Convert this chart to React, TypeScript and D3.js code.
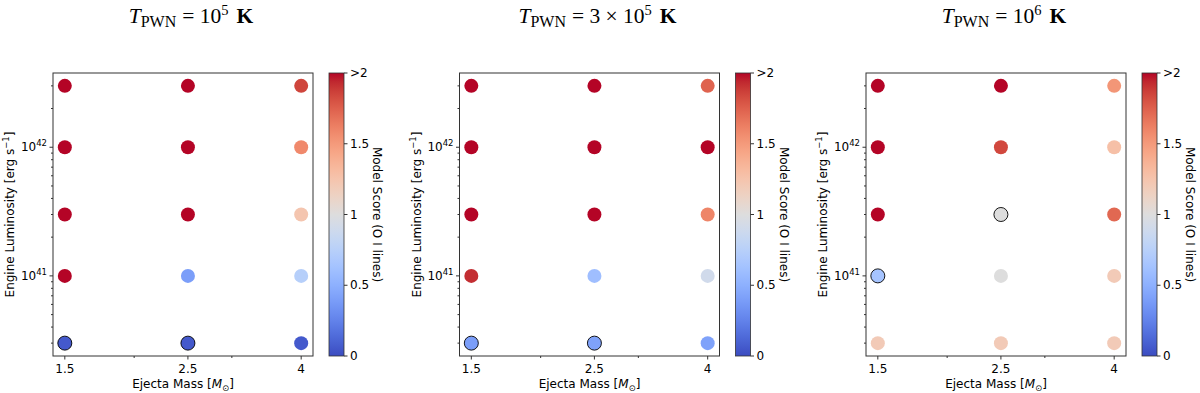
import React from 'react'
import * as d3 from 'd3'

// grid of models
const masses = [1.5, 2.5, 4]
const luminosities = [3e40, 1e41, 3e41, 1e42, 3e42]
const titleExps = ['10', '3 × 10', '10']
const titleSups = ['5', '5', '6']

// scores[row = luminosity][col = mass], capped at 2
const scoresT1 = [
  [0.06, 0.06, 0.06],
  [2, 0.4, 0.74],
  [2, 2, 1.24],
  [2, 2, 1.58],
  [2, 2, 1.85],
]
const scoresT2 = [
  [0.4, 0.42, 0.42],
  [1.92, 0.6, 0.9],
  [2, 2, 1.6],
  [2, 2, 2],
  [2, 2, 1.74],
]
const scoresT3 = [
  [1.2, 1.2, 1.2],
  [0.64, 1.0, 1.2],
  [2, 1.0, 1.72],
  [2, 1.84, 1.28],
  [2, 2, 1.52],
]
// best-fit models get a black outline
const bestT1 = [[0, 0], [0, 1]]
const bestT2 = [[0, 0], [0, 1]]
const bestT3 = [[1, 0], [2, 1]]

const panels = [
  { scores: scoresT1, best: bestT1 },
  { scores: scoresT2, best: bestT2 },
  { scores: scoresT3, best: bestT3 },
]

const cbTicks = [0, 0.5, 1, 1.5, 2]
const cbLabels = ['0', '0.5', '1', '1.5', '>2']

// matplotlib coolwarm (Moreland)
const coolwarmStops = [
  [59, 76, 192], [68, 90, 204], [77, 104, 215], [87, 117, 225], [98, 130, 234],
  [108, 142, 241], [119, 154, 247], [130, 165, 251], [141, 176, 254], [152, 185, 255],
  [163, 194, 255], [174, 201, 253], [184, 208, 249], [194, 213, 244], [204, 217, 238],
  [213, 219, 230], [221, 221, 221], [229, 216, 209], [236, 211, 197], [241, 204, 185],
  [245, 196, 173], [247, 187, 160], [247, 177, 148], [247, 166, 135], [244, 154, 123],
  [241, 141, 111], [236, 127, 99], [229, 112, 88], [222, 96, 77], [213, 80, 66],
  [203, 62, 56], [192, 40, 47], [180, 4, 38],
]
const coolwarm = d3.scaleLinear<string>()
  .domain(coolwarmStops.map((_, i) => i / (coolwarmStops.length - 1)))
  .range(coolwarmStops.map((c) => `rgb(${c[0]},${c[1]},${c[2]})`))
  .interpolate(d3.interpolateRgb)
const norm = d3.scaleLinear().domain([0, 2]).range([0, 1]).clamp(true)
const colorOf = (v: number) => coolwarm(norm(v))

const FONT = 'DejaVu Sans, sans-serif'
const SERIF = 'Liberation Serif, Times New Roman, serif'

const top = 73
const plotH = 283
const plotW = 260
const panelStep = 406.5

const logPad = (lo: number, hi: number) => {
  const a = Math.log10(lo)
  const b = Math.log10(hi)
  const m = (b - a) * 0.05
  return [Math.pow(10, a - m), Math.pow(10, b + m)]
}

const Panel = ({ idx }: { idx: number }) => {
  const left = 53 + idx * panelStep
  const { scores, best } = panels[idx]
  const x = d3.scaleLog().domain(logPad(masses[0], masses[masses.length - 1])).range([left, left + plotW])
  const y = d3.scaleLog().domain(logPad(luminosities[0], luminosities[luminosities.length - 1])).range([top + plotH, top])
  const bottom = top + plotH

  const xMinor = [2, 3]
  const yMajor = [1e41, 1e42]
  const yMinor = y.ticks().filter((t) => {
    const l = Math.log10(t)
    return Math.abs(l - Math.round(l)) > 1e-6
  })

  const cbX = left + plotW + 16
  const cbW = 15
  const cb = d3.scaleLinear().domain([0, 2]).range([bottom, top])
  const gradId = `cw${idx}`
  const isBest = (r: number, c: number) => best.some((b) => b[0] === r && b[1] === c)

  const midY = top + plotH / 2
  const centerX = left + plotW / 2

  return (
    <g>
      <defs>
        <linearGradient id={gradId} x1="0" y1="1" x2="0" y2="0">
          {coolwarmStops.map((c, i) => (
            <stop key={i} offset={i / (coolwarmStops.length - 1)} stopColor={`rgb(${c[0]},${c[1]},${c[2]})`} />
          ))}
        </linearGradient>
      </defs>

      {/* title */}
      <text x={centerX + 8} y={23} textAnchor="middle" fontFamily={SERIF} fontSize={21.5} fill="#000">
        <tspan fontStyle="italic">T</tspan>
        <tspan fontSize={16} dy={4}>PWN</tspan>
        <tspan dy={-4} dx={6}>= {titleExps[idx]}</tspan>
        <tspan fontSize={14.5} dy={-8}>{titleSups[idx]}</tspan>
        <tspan dy={8} dx={8} fontWeight="bold">K</tspan>
      </text>

      {/* points */}
      {luminosities.map((L, r) =>
        masses.map((M, c) => (
          <circle
            key={`${r}-${c}`}
            cx={x(M)}
            cy={y(L)}
            r={7}
            fill={colorOf(scores[r][c])}
            stroke={isBest(r, c) ? '#000' : 'none'}
            strokeWidth={0.9}
          />
        ))
      )}

      <rect x={left} y={top} width={plotW} height={plotH} fill="none" stroke="#333" strokeWidth={1} />

      {/* x ticks */}
      {masses.map((m) => (
        <g key={m}>
          <line x1={x(m)} x2={x(m)} y1={bottom} y2={bottom + 3.5} stroke="#333" />
          <text x={x(m)} y={bottom + 17} textAnchor="middle" fontFamily={FONT} fontSize={12} fill="#000">
            {m}
          </text>
        </g>
      ))}
      {xMinor.map((m) => (
        <line key={m} x1={x(m)} x2={x(m)} y1={bottom} y2={bottom + 2} stroke="#333" />
      ))}
      <text x={centerX} y={bottom + 32} textAnchor="middle" fontFamily={FONT} fontSize={12} fill="#000">
        Ejecta Mass [<tspan fontStyle="italic">M</tspan>
        <tspan fontSize={8.5} dy={2.5}>⊙</tspan>
        <tspan dy={-2.5}>]</tspan>
      </text>

      {/* y ticks */}
      {yMajor.map((t) => (
        <g key={t}>
          <line x1={left} x2={left - 3.5} y1={y(t)} y2={y(t)} stroke="#333" />
          <text x={left - 6} y={y(t) + 4} textAnchor="end" fontFamily={FONT} fontSize={12} fill="#000">
            10<tspan fontSize={8.5} dy={-5}>{Math.round(Math.log10(t))}</tspan>
          </text>
        </g>
      ))}
      {yMinor.map((t) => (
        <line key={t} x1={left} x2={left - 2} y1={y(t)} y2={y(t)} stroke="#333" />
      ))}
      <text
        transform={`translate(${left - 39},${midY}) rotate(-90)`}
        textAnchor="middle"
        fontFamily={FONT}
        fontSize={12}
        fill="#000"
      >
        Engine Luminosity [erg s<tspan fontSize={8.5} dy={-5}>−1</tspan>
        <tspan dy={5}>]</tspan>
      </text>

      {/* colorbar */}
      <rect x={cbX} y={top} width={cbW} height={plotH} fill={`url(#${gradId})`} stroke="#333" strokeWidth={0.8} />
      {cbTicks.map((t, i) => (
        <g key={t}>
          <line x1={cbX + cbW} x2={cbX + cbW + 3.5} y1={cb(t)} y2={cb(t)} stroke="#333" />
          <text x={cbX + cbW + 6} y={cb(t) + 4} fontFamily={FONT} fontSize={12} fill="#000">
            {cbLabels[i]}
          </text>
        </g>
      ))}
      <text
        transform={`translate(${left + plotW + 60},${midY}) rotate(90)`}
        textAnchor="middle"
        fontFamily={FONT}
        fontSize={12}
        fill="#000"
      >
        Model Score (O I lines)
      </text>
    </g>
  )
}

export default function App() {
  return (
    <svg width={1200} height={393} style={{ display: 'block', position: 'absolute', left: 0, top: 0 }}>
      <rect width={1200} height={393} fill="#fff" />
      {panels.map((_, i) => (
        <Panel key={i} idx={i} />
      ))}
    </svg>
  )
}
